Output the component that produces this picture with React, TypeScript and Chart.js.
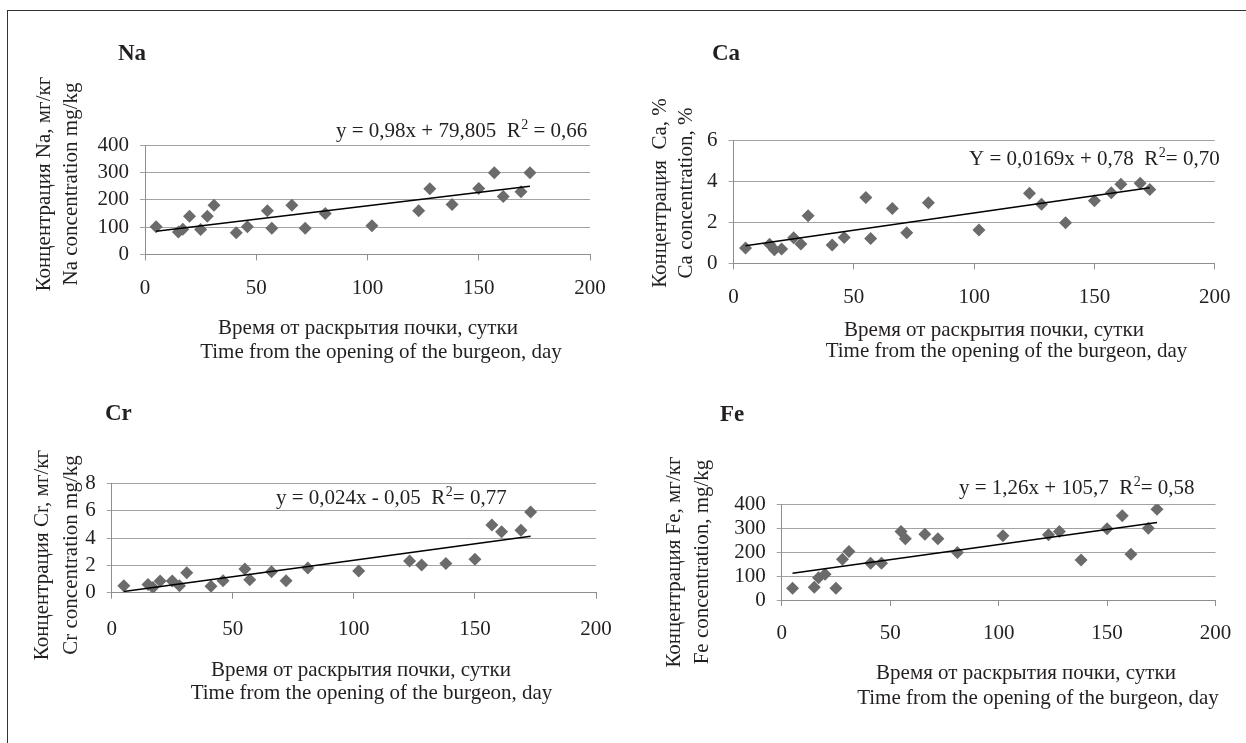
import React, { useEffect, useRef } from 'react';
import { Chart, registerables } from 'chart.js';

Chart.register(...registerables);

// ---------- DATA ----------
const DAYS = [5, 15, 17, 20, 25, 28, 31, 41, 46, 55, 57, 66, 72, 81, 102, 123, 128, 138, 150, 157, 161, 169, 173];

const NA_VALUES = [101, 82, 92, 140, 91, 140, 180, 79, 101, 160, 96, 180, 96, 150, 105, 160, 241, 183, 242, 299, 212, 230, 299];
const CA_VALUES = [0.75, 0.93, 0.67, 0.7, 1.25, 0.95, 2.33, 0.9, 1.27, 3.22, 1.22, 2.69, 1.5, 2.97, 1.63, 3.43, 2.89, 1.99, 3.07, 3.46, 3.87, 3.92, 3.62];
const CR_VALUES = [0.5, 0.6, 0.38, 0.85, 0.85, 0.5, 1.46, 0.48, 0.87, 1.73, 0.95, 1.54, 0.88, 1.8, 1.58, 2.32, 2.02, 2.14, 2.45, 4.95, 4.46, 4.56, 5.9];
const FE_VALUES = [49, 53, 93, 107, 49, 170, 202, 153, 153, 286, 256, 275, 256, 198, 268, 272, 286, 167, 297, 352, 191, 300, 379];

const TREND_DAYS = [5, 173];
const NA_TREND = [85, 250];
const CA_TREND = [0.86, 3.7];
const CR_TREND = [0.08, 4.12];
const FE_TREND = [112, 324];

const X_TICKS = [0, 50, 100, 150, 200];
const NA_TICKS = [0, 100, 200, 300, 400];
const CA_TICKS = [0, 2, 4, 6];
const CR_TICKS = [0, 2, 4, 6, 8];
const FE_TICKS = [0, 100, 200, 300, 400];

// ---------- TEXT ----------
const X_TITLE = ['Время от раскрытия почки, сутки', 'Time from the opening of the burgeon, day'];

const NA_TITLE = 'Na';
const CA_TITLE = 'Ca';
const CR_TITLE = 'Cr';
const FE_TITLE = 'Fe';

const NA_EQ = ['y = 0,98x + 79,805  R', '2', ' = 0,66'];
const CA_EQ = ['Y = 0,0169x + 0,78  R', '2', '= 0,70'];
const CR_EQ = ['y = 0,024x - 0,05  R', '2', '= 0,77'];
const FE_EQ = ['y = 1,26x + 105,7  R', '2', '= 0,58'];

const NA_YTITLE = ['Концентрация Na, мг/кг', 'Na concentration mg/kg'];
const CA_YTITLE = ['Концентрация  Ca, %', 'Ca concentration, %'];
const CR_YTITLE = ['Концентрация Cr, мг/кг', 'Cr concentration mg/kg'];
const FE_YTITLE = ['Концентрация Fe, мг/кг', 'Fe concentration, mg/kg'];

// ---------- STYLE / LAYOUT ----------
const W = 1246;
const H = 743;
const FONT = '"Liberation Serif", "Times New Roman", serif';
const TEXT_COLOR = '#231f20';
const MARKER_COLOR = '#6b6b6b';
const GRID_COLOR = '#a3a3a3';
const AXIS_COLOR = '#8e8e8e';
const Y_SCALE_W = 80;
const X_SCALE_H = 60;

type Panel = {
  title: string;
  eq: string[];
  yTitle: string[];
  values: number[];
  trend: number[];
  yTicks: number[];
  area: { l: number; t: number; r: number; b: number };
  xLabelPad: number;
  titlePos: [number, number];
  eqPos: [number, number];
  yTitleX: [number, number];
  yTitleY: number;
  xTitleX: [number, number];
  xTitleY: [number, number];
};

const PANELS: Panel[] = [
  {
    title: NA_TITLE, eq: NA_EQ, yTitle: NA_YTITLE, values: NA_VALUES, trend: NA_TREND, yTicks: NA_TICKS,
    area: { l: 145, t: 145.3, r: 590, b: 254.4 }, xLabelPad: 15,
    titlePos: [118, 60], eqPos: [336, 137], yTitleX: [44, 71], yTitleY: 184,
    xTitleX: [368, 381], xTitleY: [334, 357.5],
  },
  {
    title: CA_TITLE, eq: CA_EQ, yTitle: CA_YTITLE, values: CA_VALUES, trend: CA_TREND, yTicks: CA_TICKS,
    area: { l: 733.5, t: 140.9, r: 1215, b: 263.3 }, xLabelPad: 15.5,
    titlePos: [712, 60], eqPos: [969, 165], yTitleX: [660, 686], yTitleY: 193,
    xTitleX: [994, 1006.5], xTitleY: [336, 357],
  },
  {
    title: CR_TITLE, eq: CR_EQ, yTitle: CR_YTITLE, values: CR_VALUES, trend: CR_TREND, yTicks: CR_TICKS,
    area: { l: 111.7, t: 483.3, r: 596, b: 592.7 }, xLabelPad: 18.5,
    titlePos: [105, 420], eqPos: [276, 504], yTitleX: [42, 71], yTitleY: 555,
    xTitleX: [361, 371.5], xTitleY: [676, 699],
  },
  {
    title: FE_TITLE, eq: FE_EQ, yTitle: FE_YTITLE, values: FE_VALUES, trend: FE_TREND, yTicks: FE_TICKS,
    area: { l: 781.7, t: 504.2, r: 1219.3, b: 600 }, xLabelPad: 14.7,
    titlePos: [720, 421], eqPos: [959, 494], yTitleX: [674, 702], yTitleY: 562,
    xTitleX: [1026, 1038], xTitleY: [679, 704],
  },
];

function makeTextPlugin(p: Panel) {
  return {
    id: 'panelText',
    afterDraw(chart: any) {
      const ctx: CanvasRenderingContext2D = chart.ctx;
      ctx.save();
      ctx.fillStyle = TEXT_COLOR;
      // panel title
      ctx.font = `bold 23px ${FONT}`;
      ctx.textAlign = 'left';
      ctx.textBaseline = 'alphabetic';
      ctx.fillText(p.title, p.titlePos[0], p.titlePos[1]);
      // equation with superscript
      ctx.font = `21px ${FONT}`;
      let x = p.eqPos[0];
      const y = p.eqPos[1];
      ctx.fillText(p.eq[0], x, y);
      x += ctx.measureText(p.eq[0]).width;
      ctx.font = `14px ${FONT}`;
      ctx.fillText(p.eq[1], x + 0.5, y - 8);
      x += ctx.measureText(p.eq[1]).width + 0.5;
      ctx.font = `21px ${FONT}`;
      ctx.fillText(p.eq[2], x, y);
      // x axis titles
      ctx.textAlign = 'center';
      X_TITLE.forEach((t, i) => ctx.fillText(t, p.xTitleX[i], p.xTitleY[i]));
      // y axis titles
      p.yTitle.forEach((t, i) => {
        ctx.save();
        ctx.translate(p.yTitleX[i], p.yTitleY);
        ctx.rotate(-Math.PI / 2);
        ctx.textAlign = 'center';
        ctx.textBaseline = 'middle';
        ctx.fillText(t, 0, 0);
        ctx.restore();
      });
      ctx.restore();
    },
  };
}

function PanelChart({ panel }: { panel: Panel }) {
  const ref = useRef<HTMLCanvasElement | null>(null);
  useEffect(() => {
    if (!ref.current) return;
    const a = panel.area;
    const tickFont = { family: FONT, size: 21 };
    const chart = new Chart(ref.current, {
      type: 'scatter',
      data: {
        datasets: [
          {
            data: TREND_DAYS.map((d, i) => ({ x: d, y: panel.trend[i] })),
            showLine: true,
            borderColor: '#000000',
            borderWidth: 1.5,
            pointRadius: 0,
            fill: false,
            order: 0,
          } as any,
          {
            data: DAYS.map((d, i) => ({ x: d, y: panel.values[i] })),
            pointStyle: 'rectRot',
            pointRadius: 6.5,
            backgroundColor: MARKER_COLOR,
            borderColor: MARKER_COLOR,
            borderWidth: 0,
            order: 1,
          } as any,
        ],
      },
      options: {
        responsive: false,
        animation: false,
        devicePixelRatio: 1,
        events: [],
        layout: {
          padding: {
            left: a.l - Y_SCALE_W,
            top: a.t,
            right: W - a.r,
            bottom: H - a.b - X_SCALE_H,
          },
        },
        plugins: {
          legend: { display: false },
          tooltip: { enabled: false },
          title: { display: false },
        },
        scales: {
          x: {
            type: 'linear',
            position: 'bottom',
            min: X_TICKS[0],
            max: X_TICKS[X_TICKS.length - 1],
            ticks: {
              stepSize: X_TICKS[1] - X_TICKS[0],
              autoSkip: false,
              padding: panel.xLabelPad,
              font: tickFont,
              color: TEXT_COLOR,
              maxRotation: 0,
              minRotation: 0,
            },
            grid: { drawOnChartArea: false, drawTicks: true, tickLength: 6, color: AXIS_COLOR },
            border: { display: true, color: AXIS_COLOR, width: 1 },
            afterFit: (s: any) => { s.height = X_SCALE_H; },
          },
          y: {
            type: 'linear',
            min: panel.yTicks[0],
            max: panel.yTicks[panel.yTicks.length - 1],
            ticks: {
              stepSize: panel.yTicks[1] - panel.yTicks[0],
              autoSkip: false,
              padding: 11,
              font: tickFont,
              color: TEXT_COLOR,
            },
            grid: { drawOnChartArea: true, drawTicks: true, tickLength: 5, color: GRID_COLOR },
            border: { display: true, color: AXIS_COLOR, width: 1 },
            afterFit: (s: any) => { s.width = Y_SCALE_W; },
          },
        },
      } as any,
      plugins: [makeTextPlugin(panel)],
    });
    return () => chart.destroy();
  }, [panel]);
  return (
    <canvas
      ref={ref}
      width={W}
      height={H}
      style={{ position: 'absolute', left: 0, top: 0, width: W, height: H, pointerEvents: 'none' }}
    />
  );
}

export default function App() {
  return (
    <div style={{ position: 'absolute', left: 0, top: 0, width: W, height: H, overflow: 'hidden', background: '#ffffff' }}>
      <div
        style={{
          position: 'absolute',
          left: 7,
          top: 10,
          width: W + 50,
          height: H + 50,
          borderTop: '1px solid #333333',
          borderLeft: '1px solid #333333',
        }}
      />
      {PANELS.map((p) => (
        <PanelChart key={p.title} panel={p} />
      ))}
    </div>
  );
}
